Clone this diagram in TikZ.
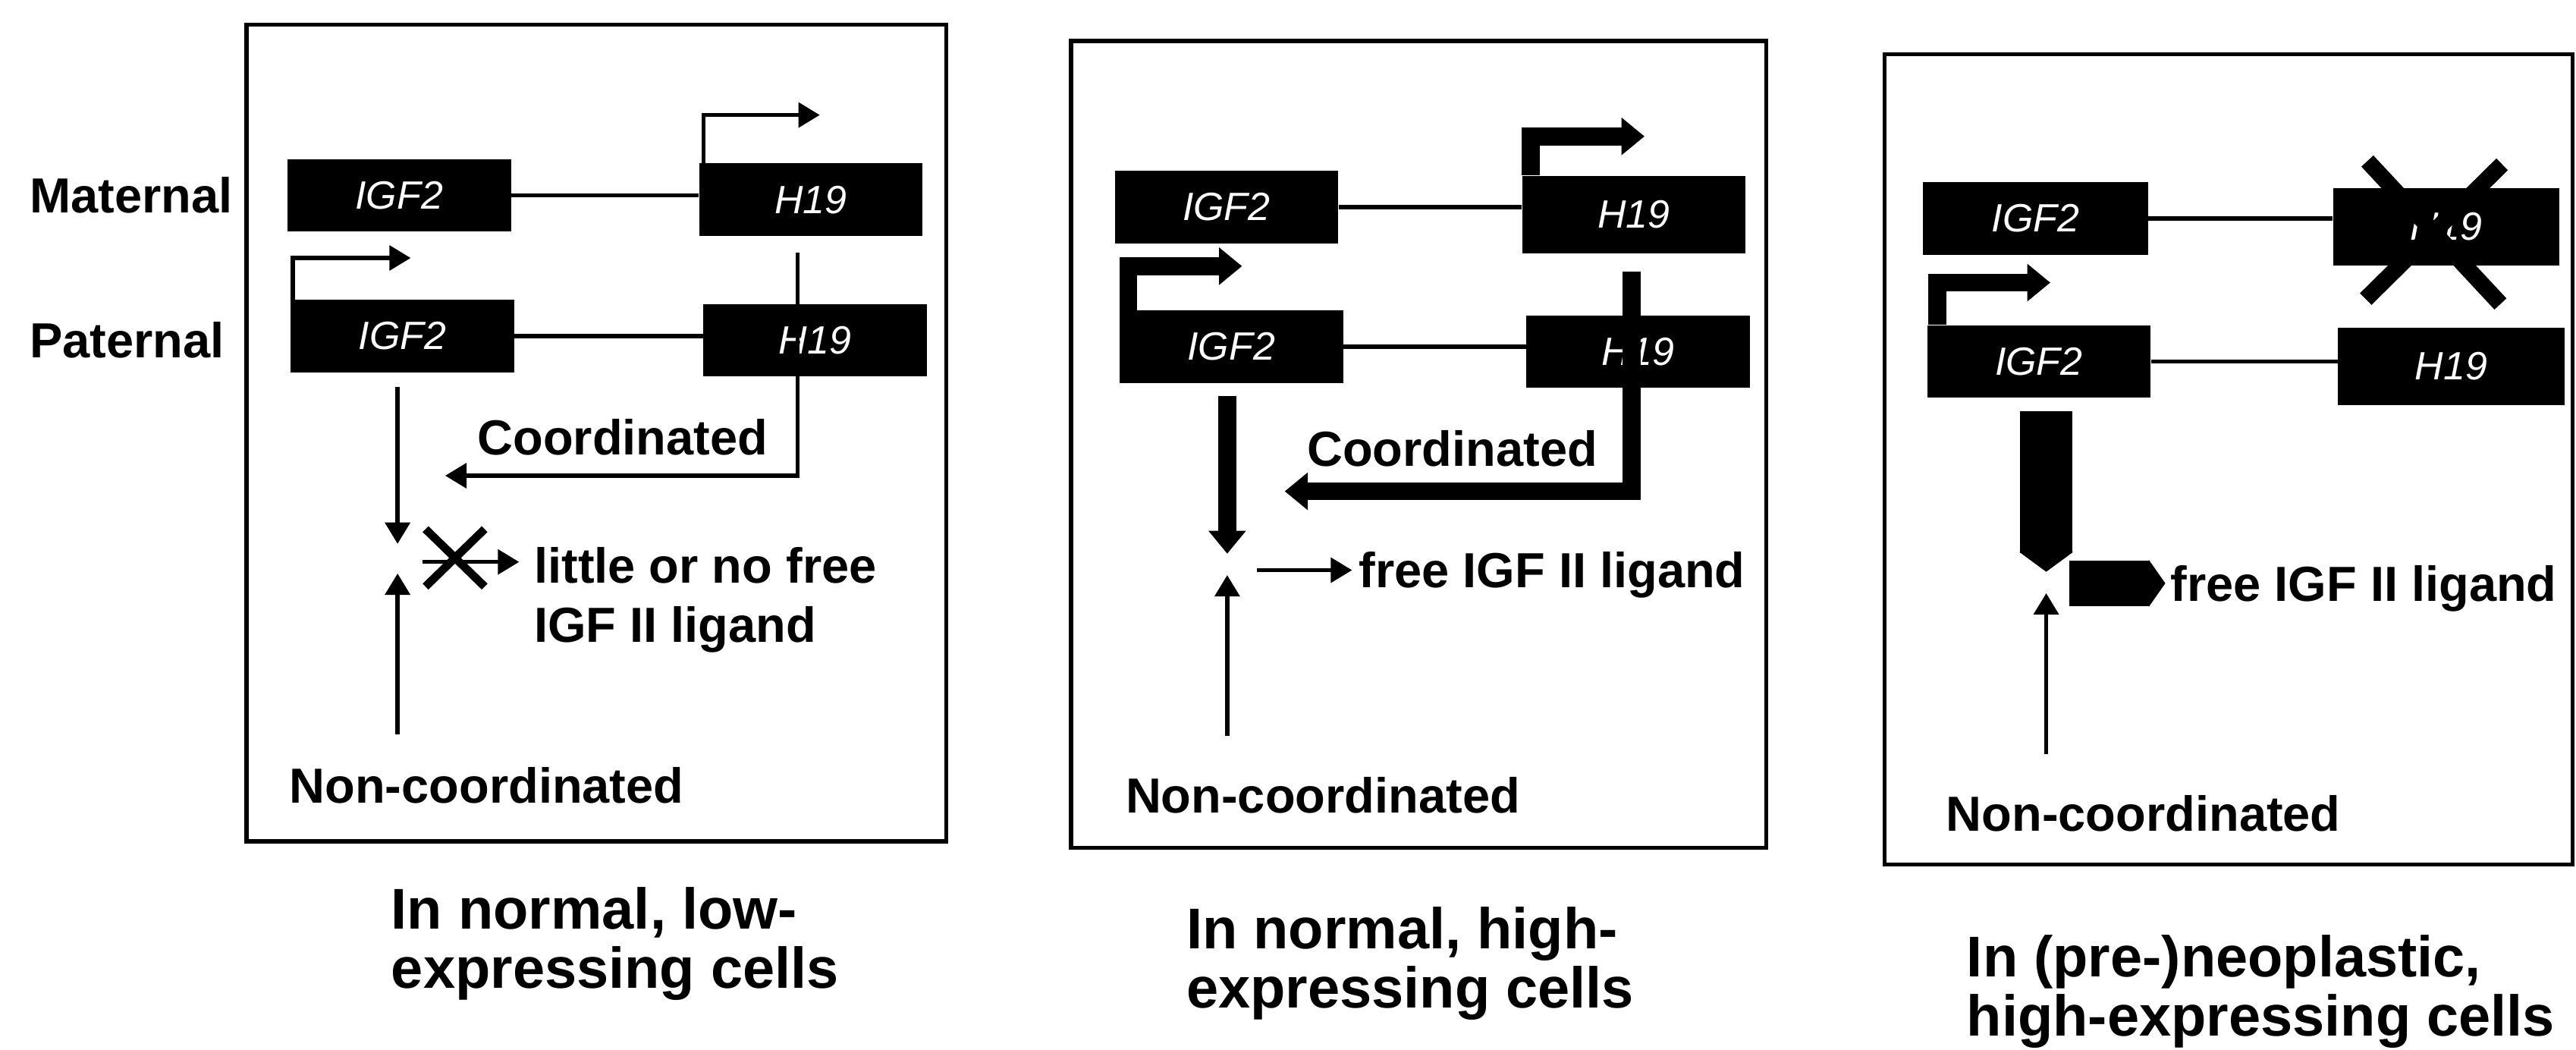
\documentclass[tikz,border=0pt]{standalone}
\usepackage{fontspec}
\setmainfont{Liberation Sans}
\usetikzlibrary{arrows.meta, positioning}

\begin{document}
\begin{tikzpicture}[
    x=1pt, y=-1pt,
    >={Triangle[length=13pt, width=15pt]},
    panel/.style={draw, line width=2.5pt},
    gene/.style={fill=black, minimum width=136pt, minimum height=44pt, inner sep=0pt, text=white, font=\fontsize{24}{26}\selectfont\itshape},
    lbl/.style={anchor=west, inner sep=0pt, align=left, font=\fontsize{30}{36}\selectfont\bfseries},
    capt/.style={anchor=north west, inner sep=0pt, align=left, font=\fontsize{35}{36}\selectfont\bfseries},
    wire/.style={line width=2.5pt},
    fat/.style={line width=11pt, >={Triangle[length=14pt, width=22pt]}},
    bar/.style={line width=32pt, >={Triangle[length=12pt, width=32pt]}},
]
    \useasboundingbox (0,0) rectangle (1568,639);

    % normal, low-expressing
    \draw[panel] (150,15) rectangle (576,512);
    \node[lbl] (mat) at (18,119) {Maternal};
    \node[lbl] (pat) at (18,207) {Paternal};
    \node[gene] (igfM1) at (243,119) {IGF2};
    \node[gene] (h19M1) at (493.5,121.5) {H19};
    \node[gene] (igfP1) at (245,204.5) {IGF2};
    \node[gene] (h19P1) at (496,207) {H19};
    \draw[wire] (igfM1.east) -- (igfM1.east -| h19M1.west);
    \draw[wire] (igfP1.east) -- (igfP1.east -| h19P1.west);
    \coordinate (tpM1) at (499,70);
    \coordinate (tpP1) at (250,157);
    \draw[wire, ->] ([xshift=3pt]h19M1.north west) |- (tpM1);
    \draw[wire, ->] ([xshift=1.5pt]igfP1.north west) |- (tpP1);
    \coordinate (co1) at (271,289.5);
    \draw[wire, ->] ([xshift=-8pt, yshift=-10pt]h19M1.south) |- (co1);
    \node[lbl, anchor=center] (coord1) at (379,266) {Coordinated};
    \coordinate (jn1) at (242,340);
    \node[lbl] (nc1) at (176,478) {Non-coordinated};
    \draw[wire, ->, shorten <=9pt, shorten >=9pt] (igfP1.south -| jn1) -- (jn1);
    \draw[wire, ->, shorten <=20pt, shorten >=9pt] (nc1.north -| jn1) -- (jn1);
    \coordinate (xm1) at (277,339);
    \draw[line width=5pt] (xm1) ++(-18,-17) -- ++(36,35) (xm1) ++(18,-17) -- ++(-36,35);
    \node[lbl] (lig1) at (325,365) {little or no free\\IGF II ligand};
    \coordinate (li1) at (316,342);
    \draw[wire, ->] ([xshift=15pt, yshift=-2pt]jn1) -- (li1);
    \node[capt] (cap1) at (238,540) {In normal, low-\\expressing cells};

    % normal, high-expressing
    \draw[panel] (652,25) rectangle (1075,516);
    \node[gene] (igfM2) at (746.5,126) {IGF2};
    \node[gene, minimum height=47pt] (h19M2) at (994.5,130.5) {H19};
    \node[gene] (igfP2) at (749.5,211) {IGF2};
    \node[gene] (h19P2) at (997,214) {H19};
    \draw[wire] (igfM2.east) -- (igfM2.east -| h19M2.west);
    \draw[wire] (igfP2.east) -- (igfP2.east -| h19P2.west);
    \coordinate (tpM2) at (1001,83);
    \coordinate (tpP2) at (756,162);
    \draw[fat, ->] ([xshift=5.5pt]h19M2.north west) |- (tpM2);
    \draw[fat, ->] ([xshift=5.5pt]igfP2.north west) |- (tpP2);
    \coordinate (co2) at (782,299);
    \draw[fat, ->] ([xshift=-1.5pt, yshift=-11pt]h19M2.south) |- (co2);
    \node[lbl, anchor=center] (coord2) at (884,273) {Coordinated};
    \coordinate (jn2) at (747,344);
    \node[lbl] (nc2) at (685,484) {Non-coordinated};
    \draw[fat, ->, shorten <=8pt, shorten >=7pt] (igfP2.south -| jn2) -- (jn2);
    \draw[wire, ->, shorten <=25pt, shorten >=6pt] (nc2.north -| jn2) -- (jn2);
    \node[lbl] (lig2) at (827,350) {free IGF II ligand};
    \coordinate (li2) at (823,347);
    \draw[wire, ->] ([xshift=18pt, yshift=-3pt]jn2) -- (li2);
    \node[capt] (cap2) at (722,552) {In normal, high-\\expressing cells};

    % (pre-)neoplastic, high-expressing
    \draw[panel] (1147,33) rectangle (1566,526);
    \node[gene, minimum width=137pt] (igfM3) at (1239,133) {IGF2};
    \node[gene, minimum width=138pt, minimum height=47pt] (h19M3) at (1489,138) {H19};
    \node[gene] (igfP3) at (1241,220) {IGF2};
    \node[gene, minimum width=138pt, minimum height=47pt] (h19P3) at (1492,223) {H19};
    \draw[wire] (igfM3.east) -- (igfM3.east -| h19M3.west);
    \draw[wire] (igfP3.east) -- (igfP3.east -| h19P3.west);
    \draw[line width=10pt] ([shift={(-48,-40)}]h19M3.center) -- ([shift={(33,47)}]h19M3.center)
        ([shift={(34,-38)}]h19M3.center) -- ([shift={(-49,44)}]h19M3.center);
    \coordinate (tpP3) at (1248,172);
    \draw[fat, ->] ([xshift=6.5pt]igfP3.north west) |- (tpP3);
    \coordinate (jn3) at (1245.5,354);
    \node[lbl] (nc3) at (1184.5,495) {Non-coordinated};
    \draw[bar, ->, shorten <=8pt, shorten >=6pt] (igfP3.south -| jn3) -- (jn3);
    \draw[wire, ->, shorten <=25pt, shorten >=7pt] (nc3.north -| jn3) -- (jn3);
    \node[lbl] (lig3) at (1321,358) {free IGF II ligand};
    \coordinate (li3) at (1318,355);
    \draw[bar, line width=28pt, >={Triangle[length=10pt, width=28pt]}, ->] ([xshift=14pt, yshift=-1pt]jn3) -- (li3);
    \node[capt] (cap3) at (1197,569) {In (pre-)neoplastic,\\high-expressing cells};
\end{tikzpicture}
\end{document}
